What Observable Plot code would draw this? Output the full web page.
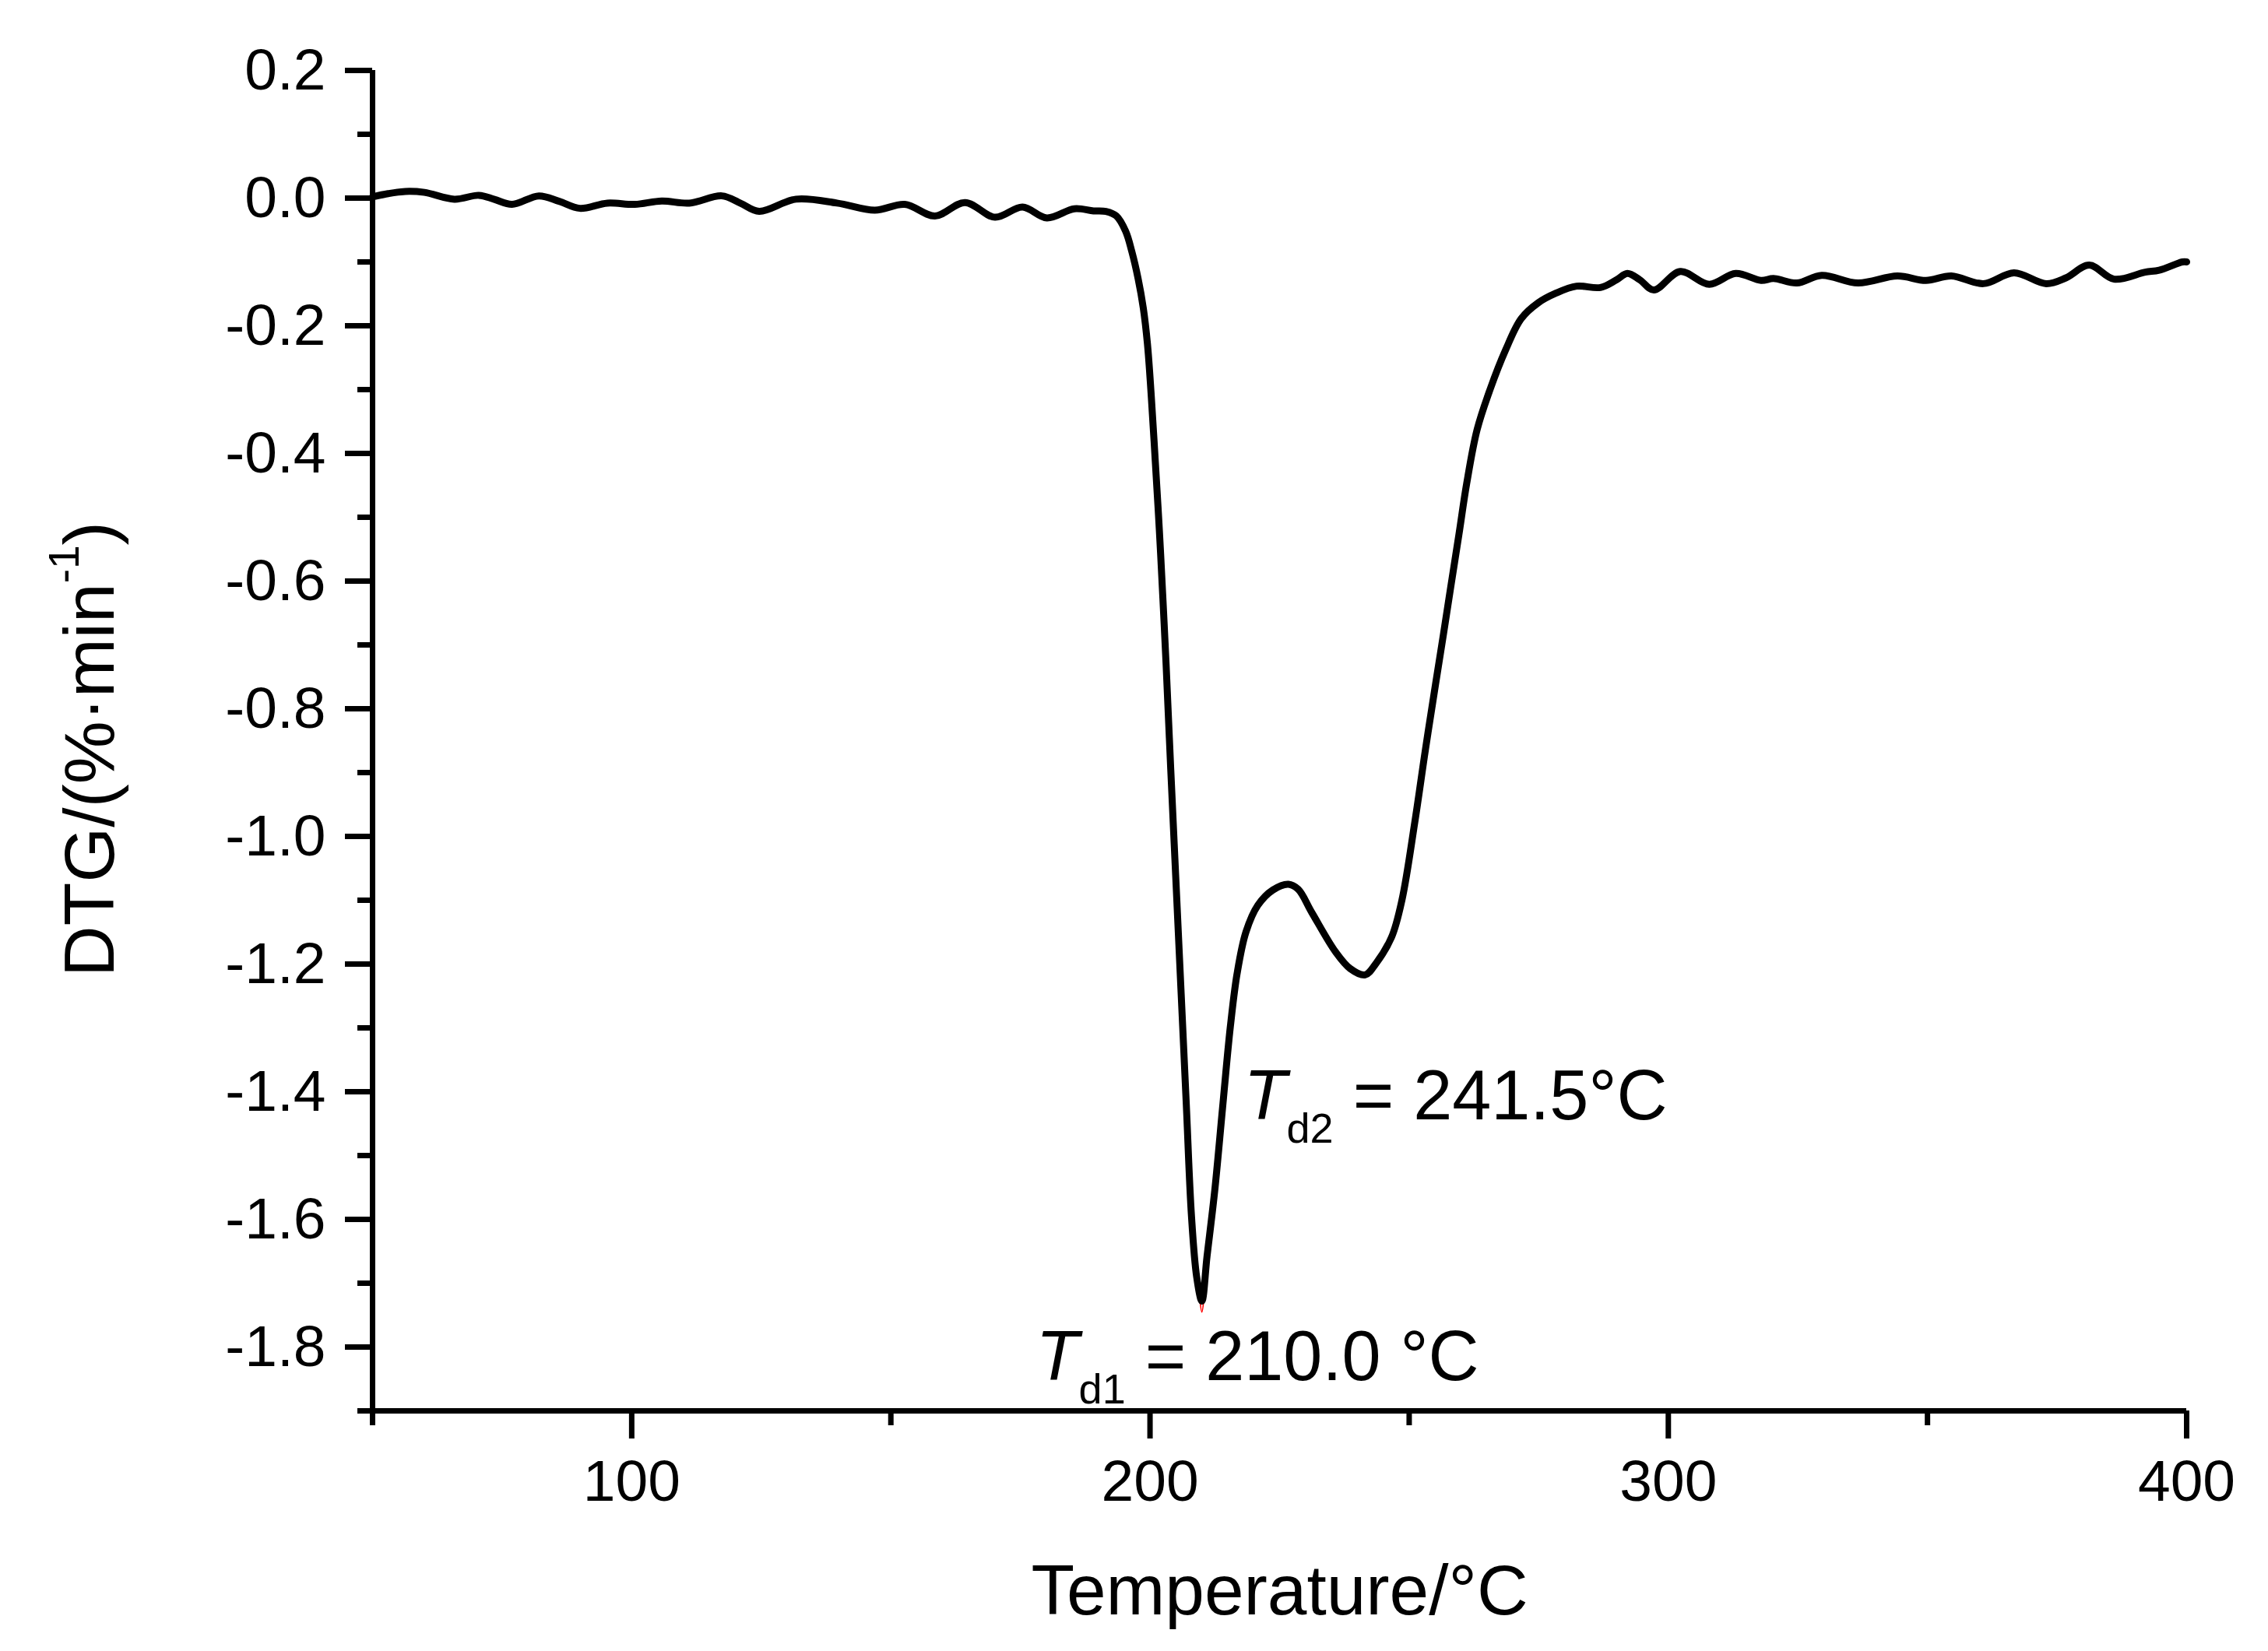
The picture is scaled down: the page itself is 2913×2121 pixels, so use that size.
<!DOCTYPE html>
<html>
<head>
<meta charset="utf-8">
<script src="https://cdn.jsdelivr.net/npm/d3@7"></script>
<script src="https://cdn.jsdelivr.net/npm/@observablehq/plot@0.6"></script>
<style>
  html, body { margin: 0; padding: 0; background: #fff; }
  svg { display: block; }
</style>
</head>
<body>
<div id="chart"></div>
<script>
// ---- data ----
const xDomain = [50, 400];
const yDomain = [-1.9, 0.2];
const xMajorTicks = [100, 200, 300, 400];
const xMinorTicks = [50, 150, 250, 350];
const yMajorTicks = [0.2, 0.0, -0.2, -0.4, -0.6, -0.8, -1.0, -1.2, -1.4, -1.6, -1.8];
const yMinorTicks = [0.1, -0.1, -0.3, -0.5, -0.7, -0.9, -1.1, -1.3, -1.5, -1.7, -1.9];

const temperature = [
  50.0, 53.0, 56.3, 60.0, 65.8, 70.5, 73.5, 76.9, 82.1, 86.0, 90.0, 95.3, 100.6, 105.8, 111.1,
  117.4, 121.0, 124.6, 131.7, 139.6, 146.9, 152.7, 158.5, 164.3, 170.1, 175.4, 180.1, 185.4,
  189.1, 191.5, 193.5, 195.3, 196.5, 197.7, 198.7, 199.5, 200.2, 201.0, 201.8, 202.5, 203.1,
  204.0, 205.0, 206.0, 207.0, 208.0, 209.0, 210.0, 211.0, 212.5, 214.0, 215.5, 216.8, 218.5,
  220.8, 223.7, 226.7, 228.6, 231.2, 235.8, 238.6, 241.5, 243.6, 246.6, 248.6, 251.1, 253.1,
  255.1, 256.6, 258.1, 259.6, 261.1, 263.1, 265.6, 268.6, 271.6, 274.9, 278.3, 282.3, 286.9,
  290.0, 292.1, 294.5, 297.2, 302.3, 307.9, 313.0, 317.9, 320.3, 324.8, 329.6, 336.6, 344.2,
  349.7, 354.6, 360.8, 366.7, 372.9, 376.7, 381.2, 386.0, 392.0, 394.7, 399.2, 400.0
];
const dtg = [
  0.002, 0.007, 0.0105, 0.009, -0.0017, 0.0044, -0.002, -0.0098, 0.0035, -0.005, -0.016, -0.0078, -0.0098, -0.0045, -0.0078,
  0.0035, -0.008, -0.0207, -0.0017, -0.0078, -0.019, -0.0098, -0.028, -0.0069, -0.030, -0.0139, -0.031, -0.0167,
  -0.020, -0.021, -0.028, -0.052, -0.084, -0.126, -0.172, -0.228, -0.305, -0.410, -0.520, -0.630, -0.730,
  -0.895, -1.070, -1.245, -1.420, -1.595, -1.690, -1.728, -1.658, -1.554, -1.425, -1.298, -1.215, -1.150,
  -1.108, -1.084, -1.075, -1.083, -1.119, -1.181, -1.207, -1.217, -1.199, -1.158, -1.100, -0.977, -0.866,
  -0.761, -0.684, -0.605, -0.527, -0.447, -0.363, -0.300, -0.238, -0.189, -0.164, -0.149, -0.138, -0.140,
  -0.128, -0.118, -0.128, -0.144, -0.115, -0.135, -0.118, -0.129, -0.126, -0.133, -0.121, -0.133, -0.122,
  -0.129, -0.122, -0.134, -0.117, -0.134, -0.125, -0.105, -0.127, -0.116, -0.113, -0.100, -0.100
];

// thin red trace peeking out at the deepest point
const redTipTemperature = [209.4, 210.0, 210.6];
const redTipDtg = [-1.705, -1.745, -1.705];

const annotationX = [178.0, 218.1];
const annotationY = [-1.852, -1.443];
const annotationSymbol = ["T", "T"];
const annotationSub = ["d1", "d2"];
const annotationRest = [" = 210.0 °C", " = 241.5°C"];

const xTitle = "Temperature/°C";
const yTitleMain = "DTG/(%·min";
const yTitleSup = "-1";
const yTitleTail = ")";

// ---- tables built from the arrays ----
const curve = temperature.map((t, i) => ({t, v: dtg[i]}));
const redTip = redTipTemperature.map((t, i) => ({t, v: redTipDtg[i]}));
const annotations = annotationX.map((x, i) => ({
  x, y: annotationY[i], sym: annotationSymbol[i], sub: annotationSub[i], rest: annotationRest[i]
}));

const font = "'Liberation Sans', Arial, Helvetica, sans-serif";

const plot = Plot.plot({
  width: 2913,
  height: 2121,
  marginLeft: 478,
  marginRight: 105,
  marginTop: 90,
  marginBottom: 309,
  style: {fontFamily: font, background: "#ffffff", color: "#000", overflow: "visible"},
  x: {domain: xDomain, label: null},
  y: {domain: yDomain, label: null},
  marks: [
    Plot.axisX({ticks: xMajorTicks, tickSize: 36, tickPadding: 26, strokeWidth: 7, fontSize: 75,
      tickFormat: d => String(d), label: null, stroke: "#000", fill: "#000"}),
    Plot.axisX({ticks: xMinorTicks, tickSize: 19, strokeWidth: 7, tickFormat: () => "", label: null, stroke: "#000"}),
    Plot.axisY({ticks: yMajorTicks, tickSize: 35, tickPadding: 25, strokeWidth: 7, fontSize: 75,
      tickFormat: d => d.toFixed(1), label: null, stroke: "#000", fill: "#000"}),
    Plot.axisY({ticks: yMinorTicks, tickSize: 19, strokeWidth: 7, tickFormat: () => "", label: null, stroke: "#000"}),
    Plot.ruleX([xDomain[0]], {y1: yDomain[0], y2: yDomain[1], stroke: "#000", strokeWidth: 7}),
    Plot.ruleY([yDomain[0]], {x1: xDomain[0], x2: xDomain[1], stroke: "#000", strokeWidth: 7}),
    Plot.line(redTip, {x: "t", y: "v", stroke: "#ff0000", strokeWidth: 2, curve: "catmull-rom"}),
    Plot.line(curve, {x: "t", y: "v", stroke: "#000", strokeWidth: 9, curve: "catmull-rom",
      strokeLinejoin: "round", strokeLinecap: "round"}),
    Plot.text(annotations, {x: "x", y: "y", text: d => d.sym + d.sub + d.rest,
      textAnchor: "start", lineAnchor: "bottom", fontSize: 90, fill: "#000"}),
    Plot.text([xTitle], {text: d => d, frameAnchor: "bottom", dy: 261, lineAnchor: "bottom",
      fontSize: 91, fill: "#000"}),
    Plot.text([yTitleMain], {text: d => d + yTitleSup + yTitleTail, frameAnchor: "left", rotate: -90,
      dx: -333, dy: 11, textAnchor: "middle", lineAnchor: "bottom", fontSize: 91, fill: "#000"})
  ]
});

// rich text: italic symbol with subscript, superscript in the y title
const texts = Array.from(plot.querySelectorAll("text"));
annotations.forEach(a => {
  const full = a.sym + a.sub + a.rest;
  texts.filter(el => el.textContent === full).forEach(el => {
    const t = d3.select(el);
    t.text(null);
    t.append("tspan").attr("font-style", "italic").text(a.sym);
    t.append("tspan").attr("font-size", 54).attr("dy", 30).text(a.sub);
    t.append("tspan").attr("font-size", 90).attr("dy", -30).text(a.rest);
  });
});
texts.filter(el => el.textContent === yTitleMain + yTitleSup + yTitleTail).forEach(el => {
  const t = d3.select(el);
  t.text(null);
  t.append("tspan").text(yTitleMain);
  t.append("tspan").attr("font-size", 55).attr("dy", -45).text(yTitleSup);
  t.append("tspan").attr("font-size", 91).attr("dy", 45).text(yTitleTail);
});

document.getElementById("chart").appendChild(plot);
</script>
</body>
</html>
